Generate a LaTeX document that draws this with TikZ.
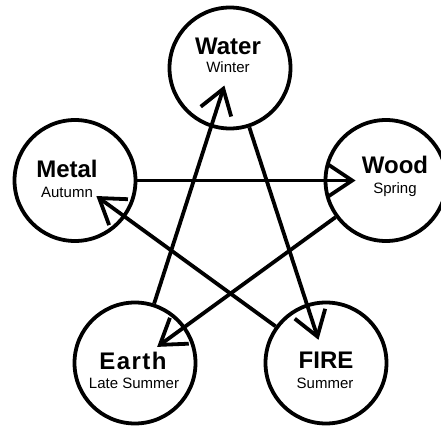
\documentclass[tikz,border=0pt]{standalone}
\usepackage{fontspec}
\setmainfont{Liberation Sans}
\usetikzlibrary{arrows.meta}
\begin{document}
\begin{tikzpicture}[x=1pt,y=1pt,
  element/.style={circle,draw,line width=3.8pt,minimum size=121pt,inner sep=0pt},
  big/.style={anchor=base,inner sep=0pt,font=\fontsize{24}{24}\selectfont\bfseries},
  small/.style={anchor=base,inner sep=0pt,font=\fontsize{15}{15}\selectfont},
  arr/.style={line width=3.8pt,-{Straight Barb[length=24pt,width=32pt,sharp]}}]
\useasboundingbox (0,0) rectangle (441,426);
\clip (0,0) rectangle (441,426);
\node[element] (water) at (230,358) {};
\node[element] (wood) at (386,245.5) {};
\node[element] (fire) at (326,63) {};
\node[element] (earth) at (135,63) {};
\node[element] (metal) at (75,245.5) {};
\node[big] (waterT) at (228,371) {Water};
\node[small] (waterS) at (228,353) {Winter};
\node[big] (metalT) at (67,248) {Metal};
\node[small] (metalS) at (67,229) {Autumn};
\node[big] (woodT) at (395,252) {Wood};
\node[small] (woodS) at (395,233) {Spring};
\node[big] (earthT) at (133,57) {\addfontfeatures{LetterSpace=6}Earth};
\node[small] (earthS) at (134,38) {Late Summer};
\node[big] (fireT) at (326,58) {FIRE};
\node[small] (fireS) at (325,38) {Summer};
\draw[arr,shorten >=-32pt] (metal) -- (wood);
\draw[arr,shorten >=-35pt] (wood) -- (earth);
\draw[arr,shorten >=-44pt] (earth) -- (water);
\draw[arr,shorten >=-38pt] (water) -- (fire);
\draw[arr,shorten >=-36pt] (fire) -- (metal);
\end{tikzpicture}
\end{document}
